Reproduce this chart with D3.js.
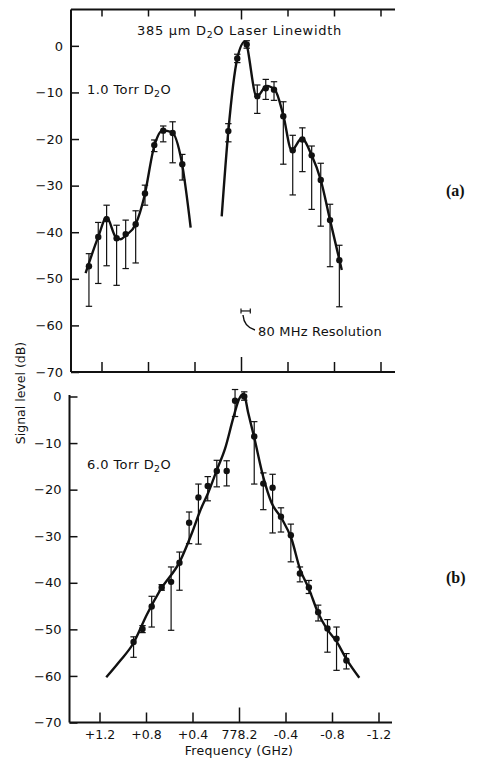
<!DOCTYPE html>
<html>
<head>
<meta charset="utf-8">
<script src="https://cdn.jsdelivr.net/npm/d3@7"></script>
<style>
  body { margin: 0; background: #fff; }
  svg { display: block; }
  text { font-family: "DejaVu Sans", sans-serif; fill: #111; }
</style>
</head>
<body>
<svg id="chart" width="487" height="762"></svg>
<script>
// axis values
const freqTicks = [1.2, 0.8, 0.4, 0, -0.4, -0.8, -1.2]
const freqLabels = ['+1.2', '+0.8', '+0.4', '778.2', '-0.4', '-0.8', '-1.2']
const levelTicks = [0, -10, -20, -30, -40, -50, -60, -70]

// panel (a): 1.0 Torr, measured points (freq GHz, level dB, bar top, bar bottom)
const freqA = [1.308, 1.228, 1.156, 1.070, 0.992, 0.906, 0.826, 0.746, 0.669, 0.588, 0.505,
  0.109, 0.032, -0.049, -0.140, -0.213, -0.284, -0.364, -0.445, -0.528, -0.608, -0.686, -0.766, -0.846]
const levelA = [-47.3, -41.0, -37.2, -41.3, -40.4, -38.3, -31.7, -21.3, -18.2, -18.7, -25.4,
  -18.3, -2.7, 0.3, -10.8, -9.1, -9.4, -15.1, -22.4, -20.1, -23.5, -28.8, -37.4, -46.0]
const hiA = [-44.6, -37.9, -34.2, -38.5, -37.4, -35.4, -29.9, -20.2, -17.2, -16.3, -23.3,
  -16.7, -1.8, 1.1, -8.4, -7.2, -7.7, -12.0, -19.2, -17.6, -21.5, -25.2, -34.0, -42.8]
const loA = [-55.9, -51.0, -47.2, -51.4, -47.8, -46.6, -34.2, -22.7, -20.6, -25.1, -28.8,
  -20.6, -3.6, -0.5, -14.5, -11.5, -11.7, -25.4, -32.0, -27.0, -35.1, -38.7, -47.4, -56.0]

// panel (a) fitted curves (two separate pieces)
const curveA1 = [[1.337, -48.8], [1.228, -41.0], [1.156, -36.8], [1.078, -41.0], [1.035, -41.5],
  [0.992, -40.7], [0.906, -38.3], [0.832, -32.4], [0.746, -21.5], [0.677, -18.2], [0.596, -18.5],
  [0.510, -24.9], [0.433, -39.0]]
const curveA2 = [[0.166, -36.6], [0.109, -18.3], [0.032, -2.7], [-0.034, 0.9], [-0.135, -10.9],
  [-0.221, -8.6], [-0.293, -9.5], [-0.364, -14.9], [-0.436, -22.4], [-0.522, -19.9],
  [-0.608, -23.5], [-0.686, -28.8], [-0.766, -37.4], [-0.867, -48.1]]

// resolution marker (GHz span, level)
const resolution = [0, -0.08]
const resolutionLevel = -56.9

// panel (b): 6.0 Torr
const freqB = [0.907, 0.830, 0.751, 0.665, 0.584, 0.512, 0.429, 0.349, 0.269, 0.191, 0.106, 0.034,
  -0.045, -0.131, -0.209, -0.289, -0.361, -0.446, -0.524, -0.601, -0.681, -0.761, -0.839, -0.924]
const levelB = [-52.7, -49.9, -45.1, -41.0, -39.8, -35.7, -27.1, -21.7, -19.2, -16.0, -16.0, -0.9,
  0.0, -8.6, -18.7, -19.6, -25.8, -29.8, -38.0, -41.0, -46.3, -49.8, -52.0, -56.7]
const hiB = [-51.6, -49.2, -42.9, -40.4, -36.6, -33.4, -24.8, -18.8, -17.2, -13.7, -13.8, 1.5,
  1.0, -5.4, -16.4, -16.7, -23.9, -27.4, -36.6, -39.5, -44.8, -47.9, -49.5, -55.2]
const loB = [-56.0, -50.7, -49.5, -41.6, -50.2, -41.6, -31.6, -31.7, -22.4, -19.4, -19.2, -4.3,
  -0.8, -18.8, -24.3, -29.3, -29.1, -35.5, -39.8, -42.3, -48.2, -54.9, -58.8, -58.5]

const curveB = [[1.142, -60.3], [1.021, -56.7], [0.914, -53.2], [0.792, -46.8], [0.678, -41.6],
  [0.506, -35.3], [0.40, -29.0], [0.335, -24.6], [0.264, -20.6], [0.191, -15.8], [0.12, -11.2],
  [0.049, -4.6], [0.0, -0.6], [-0.04, 0.6], [-0.08, -3.6], [-0.13, -8.7], [-0.209, -17.3],
  [-0.28, -22.8], [-0.367, -26.2], [-0.452, -30.6], [-0.524, -37.0], [-0.60, -41.2],
  [-0.681, -46.5], [-0.753, -49.8], [-0.839, -52.6], [-0.924, -56.4], [-1.035, -60.4]]

const svg = d3.select('#chart')

const xa = d3.scaleLinear().domain([1.2, -1.2]).range([101.5, 380.5])
const xb = d3.scaleLinear().domain([1.2, -1.2]).range([99.5, 378.5])
const ya = d3.scaleLinear().domain([7.8, -70]).range([9.5, 372])
const yb = d3.scaleLinear().domain([0, -70]).range([396.5, 722.5])

const frameA = { left: 71, right: 395, top: 9.5, bottom: 372 }
const frameB = { left: 69.5, right: 392, top: 395, bottom: 722.5 }

function fmtLevel(d) {
  return d < 0 ? '\u2212' + Math.abs(d) : String(d)
}

function drawPanel(x, y, frame, withTop, withLabels) {
  let g = svg.append('g')

  // left axis
  let left = g.append('g')
    .attr('transform', `translate(${frame.left},0)`)
    .call(d3.axisLeft(y).tickValues(levelTicks).tickSize(-8).tickPadding(8).tickFormat(fmtLevel))
  left.select('.domain').remove()
  left.selectAll('line').attr('stroke', '#111').attr('stroke-width', 1.5)
  left.selectAll('text').attr('font-size', 13).attr('font-family', 'DejaVu Sans').attr('fill', '#111')

  // bottom axis
  let bottom = g.append('g')
    .attr('transform', `translate(0,${frame.bottom})`)
    .call(d3.axisBottom(x).tickValues(freqTicks).tickSize(-10).tickPadding(8)
      .tickFormat((d, i) => withLabels ? freqLabels[i] : ''))
  bottom.select('.domain').remove()
  bottom.selectAll('line').attr('stroke', '#111').attr('stroke-width', 1.5)
  bottom.selectAll('.tick').filter(d => d === 0).select('line').attr('y2', -15)
  bottom.selectAll('text').attr('font-size', 12.5).attr('font-family', 'DejaVu Sans').attr('fill', '#111')

  g.append('line')
    .attr('x1', frame.left).attr('x2', frame.right)
    .attr('y1', frame.bottom).attr('y2', frame.bottom)
    .attr('stroke', '#111').attr('stroke-width', 2)
  g.append('line')
    .attr('x1', frame.left).attr('x2', frame.left)
    .attr('y1', frame.top).attr('y2', frame.bottom)
    .attr('stroke', '#111').attr('stroke-width', 2)

  if (withTop) {
    let top = g.append('g')
      .attr('transform', `translate(0,${frame.top})`)
      .call(d3.axisTop(x).tickValues(freqTicks).tickSize(-7).tickFormat(''))
    top.select('.domain').remove()
    top.selectAll('line').attr('stroke', '#111').attr('stroke-width', 1.5)
    top.selectAll('.tick').filter(d => d === 0).select('line').attr('y2', 10)
    g.append('line')
      .attr('x1', frame.left).attr('x2', frame.right)
      .attr('y1', frame.top).attr('y2', frame.top)
      .attr('stroke', '#111').attr('stroke-width', 2)
  }
  return g
}

function drawData(g, x, y, freq, level, hi, lo, curves) {
  const line = d3.line()
    .x(d => x(d[0]))
    .y(d => y(d[1]))
    .curve(d3.curveMonotoneX)

  curves.forEach(function (c) {
    g.append('path')
      .attr('d', line(c))
      .attr('fill', 'none')
      .attr('stroke', '#111')
      .attr('stroke-width', 2.4)
  })

  const pts = freq.map((f, i) => ({ f: f, v: level[i], hi: hi[i], lo: lo[i] }))

  let bars = g.append('g')
    .attr('stroke', '#111')
    .attr('stroke-width', 1.2)
    .selectAll('g')
    .data(pts)
    .join('g')

  bars.append('line')
    .attr('x1', d => x(d.f)).attr('x2', d => x(d.f))
    .attr('y1', d => y(d.hi)).attr('y2', d => y(d.lo))
  bars.append('line')
    .attr('x1', d => x(d.f) - 3.2).attr('x2', d => x(d.f) + 3.2)
    .attr('y1', d => y(d.hi)).attr('y2', d => y(d.hi))
  bars.append('line')
    .attr('x1', d => x(d.f) - 3.2).attr('x2', d => x(d.f) + 3.2)
    .attr('y1', d => y(d.lo)).attr('y2', d => y(d.lo))

  g.append('g')
    .selectAll('circle')
    .data(pts)
    .join('circle')
    .attr('cx', d => x(d.f))
    .attr('cy', d => y(d.v))
    .attr('r', 3.2)
    .attr('fill', '#111')
}

function labelWithSub(x, y, before, sub, after, size, spacing) {
  let t = svg.append('text')
    .attr('x', x).attr('y', y)
    .attr('font-size', size)
    .attr('letter-spacing', spacing)
  t.append('tspan').text(before)
  t.append('tspan').text(sub).attr('font-size', size * 0.72).attr('dy', 3)
  t.append('tspan').text(after).attr('dy', -3)
  return t
}

// panel (a)
let gA = drawPanel(xa, ya, frameA, true, false)
drawData(gA, xa, ya, freqA, levelA, hiA, loA, [curveA1, curveA2])

// resolution bar
let rx0 = xa(resolution[0]), rx1 = xa(resolution[1]), ry = ya(resolutionLevel)
gA.append('line').attr('x1', rx0).attr('x2', rx1).attr('y1', ry).attr('y2', ry)
  .attr('stroke', '#111').attr('stroke-width', 1.2)
gA.append('line').attr('x1', rx0).attr('x2', rx0).attr('y1', ry - 2.5).attr('y2', ry + 2.5)
  .attr('stroke', '#111').attr('stroke-width', 1.2)
gA.append('line').attr('x1', rx1).attr('x2', rx1).attr('y1', ry - 2.5).attr('y2', ry + 2.5)
  .attr('stroke', '#111').attr('stroke-width', 1.2)
gA.append('path')
  .attr('d', `M${rx0 + 2},${ry + 4} Q${rx0 + 3},${ry + 16} ${rx0 + 14},${ry + 19}`)
  .attr('fill', 'none').attr('stroke', '#111').attr('stroke-width', 1.4)

svg.append('text').attr('x', 258).attr('y', 336).attr('font-size', 13)
  .attr('letter-spacing', 0.2).text('80 MHz Resolution')

labelWithSub(137, 35, '385 \u03bcm D', '2', 'O  Laser Linewidth', 13, 0.7)
labelWithSub(87, 94, '1.0 Torr D', '2', 'O', 13, 0.4)

// panel (b)
let gB = drawPanel(xb, yb, frameB, false, true)
drawData(gB, xb, yb, freqB, levelB, hiB, loB, [curveB])

labelWithSub(87, 469, '6.0 Torr D', '2', 'O', 13, 0.4)

svg.append('text')
  .attr('x', 239).attr('y', 755)
  .attr('text-anchor', 'middle')
  .attr('font-size', 12.5)
  .attr('letter-spacing', 0.3)
  .text('Frequency (GHz)')

svg.append('text')
  .attr('transform', 'translate(25,393) rotate(-90)')
  .attr('text-anchor', 'middle')
  .attr('font-size', 12.5)
  .text('Signal level (dB)')

svg.append('text').attr('x', 446).attr('y', 196)
  .style('font-family', '"Liberation Serif", serif').attr('font-weight', 'bold').attr('font-size', 16)
  .text('(a)')
svg.append('text').attr('x', 446).attr('y', 583)
  .style('font-family', '"Liberation Serif", serif').attr('font-weight', 'bold').attr('font-size', 16)
  .text('(b)')
</script>
</body>
</html>
